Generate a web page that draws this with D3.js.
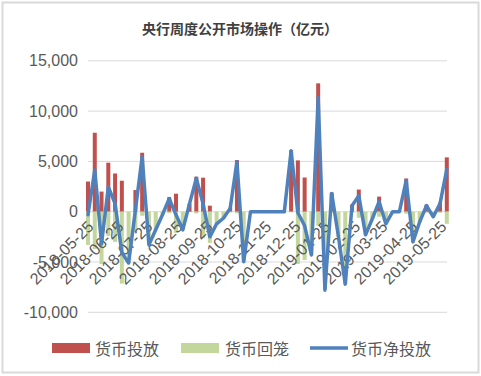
<!DOCTYPE html>
<html><head><meta charset="utf-8">
<script src="https://cdn.jsdelivr.net/npm/d3@7/dist/d3.min.js"></script>
<style>
html,body{margin:0;padding:0;background:#fff;}
svg{display:block;}
</style></head><body>
<svg id="c" width="481" height="376"></svg>
<script>
const title = "央行周度公开市场操作（亿元）";
const seriesNames = ["货币投放", "货币回笼", "货币净投放"];
const dates = [
  "2018-05-25","2018-06-01","2018-06-08","2018-06-15","2018-06-22","2018-06-29",
  "2018-07-06","2018-07-13","2018-07-20","2018-07-27",
  "2018-08-03","2018-08-10","2018-08-17","2018-08-24","2018-08-31",
  "2018-09-07","2018-09-14","2018-09-21","2018-09-28",
  "2018-10-05","2018-10-12","2018-10-19","2018-10-26",
  "2018-11-02","2018-11-09","2018-11-16","2018-11-23","2018-11-30",
  "2018-12-07","2018-12-14","2018-12-21","2018-12-28",
  "2019-01-04","2019-01-11","2019-01-18","2019-01-25",
  "2019-02-01","2019-02-08","2019-02-15","2019-02-22",
  "2019-03-01","2019-03-08","2019-03-15","2019-03-22","2019-03-29",
  "2019-04-05","2019-04-12","2019-04-19","2019-04-26",
  "2019-05-03","2019-05-10","2019-05-17","2019-05-24","2019-05-31"
];
const injection = [
  3000, 7850, 2000, 4870, 3800, 3080,
  0, 2150, 5860, 0,
  0, 0, 1450, 1790, 0,
  800, 3480, 3380, 600,
  0, 0, 400, 5130,
  0, 0, 0, 0, 0,
  0, 0, 6100, 5100,
  3400, 0, 12760, 0,
  1900, 0, 0, 700,
  2200, 0, 0, 1500, 0,
  0, 0, 3300, 0,
  0, 700, 0, 900, 5400
];
const withdrawal = [
  -3300, -3700, -5200, -2400, -3000, -7150,
  -5100, -2000, -400, -3300,
  -1800, -300, -150, -2100, -1800,
  0, -170, -2600, -3100,
  -1200, -650, -70, -160,
  -4970, 0, 0, 0, 0,
  0, 0, -50, -5200,
  -4800, -4300, -1400, -7800,
  -100, -2500, -7200, -100,
  -600, -2300, -700, -500, -1200,
  0, 0, -200, -3000,
  -1000, -100, -500, -100, -1200
];
const netInjection = [
  -300, 4150, -3200, 2470, 800, -4070,
  -5100, 150, 5460, -3300,
  -1800, -300, 1300, -310, -1800,
  800, 3310, 780, -2500,
  -1200, -650, 330, 4970,
  -4970, 0, 0, 0, 0,
  0, 0, 6050, -100,
  -1400, -4300, 11360, -7800,
  1800, -2500, -7200, 600,
  1600, -2300, -700, 1000, -1200,
  0, 0, 3100, -3000,
  -1000, 600, -500, 800, 4200
];
const yTicks = [-10000, -5000, 0, 5000, 10000, 15000];
const xTickLabels = ["2018-05-25","2018-06-25","2018-07-25","2018-08-25","2018-09-25",
  "2018-10-25","2018-11-25","2018-12-25","2019-01-25","2019-02-25","2019-03-25",
  "2019-04-25","2019-05-25"];
const colors = ["#C0504D", "#C3D69B", "#4F81BD"];

const parse = d3.timeParse("%Y-%m-%d");
const svg = d3.select("#c");
svg.append("rect").attr("x", 2.5).attr("y", 2.5).attr("width", 476).attr("height", 370)
  .attr("fill", "#fff").attr("stroke", "#d9d9d9").attr("stroke-width", 2);

const x = d3.scaleTime().domain([parse(dates[0]), parse(dates[dates.length - 1])]).range([88, 446.8]);
const y = d3.scaleLinear().domain([-10000, 15000]).range([312.3, 60.8]);

// title
svg.append("text").attr("x", 240).attr("y", 28).attr("text-anchor", "middle")
  .attr("dominant-baseline", "central")
  .style("font-family", "'Noto Sans CJK SC'").style("font-size", "14px").style("font-weight", "bold")
  .style("fill", "#404040").text(title);

// gridlines
svg.append("g").selectAll("line").data(yTicks.filter(d => d !== 0)).join("line")
  .attr("x1", 88).attr("x2", 447).attr("y1", d => y(d)).attr("y2", d => y(d))
  .attr("stroke", "#d9d9d9").attr("stroke-width", 1);

// y axis
const yAxis = svg.append("g").attr("transform", "translate(88,0)")
  .call(d3.axisLeft(y).tickValues(yTicks).tickSize(0).tickPadding(10)
    .tickFormat(d => d3.format(",")(d).replace("−", "-")));
yAxis.select(".domain").remove();
yAxis.selectAll("text").style("font-family", "Arial, 'Liberation Sans'").style("font-size", "16px").style("fill", "#595959");

// zero line
svg.append("line").attr("x1", 88).attr("x2", 447).attr("y1", y(0)).attr("y2", y(0))
  .attr("stroke", "#d9d9d9").attr("stroke-width", 1);

// bars
const bw = 4;
svg.append("g").selectAll("rect").data(dates).join("rect")
  .attr("x", (d) => x(parse(d)) - bw / 2).attr("width", bw)
  .attr("y", (d, i) => y(injection[i])).attr("height", (d, i) => y(0) - y(injection[i]))
  .attr("fill", colors[0]);
svg.append("g").selectAll("rect").data(dates).join("rect")
  .attr("x", (d) => x(parse(d)) - bw / 2).attr("width", bw)
  .attr("y", y(0)).attr("height", (d, i) => y(withdrawal[i]) - y(0))
  .attr("fill", colors[1]);

// x axis
const xAxis = svg.append("g").attr("transform", `translate(0,${y(0)})`)
  .call(d3.axisBottom(x).tickValues(xTickLabels.map(parse)).tickSize(0)
    .tickFormat(d3.timeFormat("%Y-%m-%d")));
xAxis.select(".domain").remove();
xAxis.selectAll("text")
  .attr("x", 0).attr("y", 0).attr("dy", "0.35em")
  .attr("text-anchor", "end")
  .attr("transform", "translate(2,12) rotate(-45)")
  .style("font-family", "Arial, 'Liberation Sans'").style("font-size", "16px").style("fill", "#595959");

// net line
const line = d3.line().x((d) => x(parse(d))).y((d, i) => y(netInjection[i]));
svg.append("path").datum(dates).attr("d", line)
  .attr("fill", "none").attr("stroke", colors[2]).attr("stroke-width", 3.5)
  .attr("stroke-linejoin", "round").attr("stroke-linecap", "round");

// legend
const lg = svg.append("g").style("font-family", "'Noto Sans CJK SC'").style("font-size", "16px");
const legendItems = [
  {x: 52, tx: 95, type: "rect"},
  {x: 181, tx: 225, type: "rect"},
  {x: 310, tx: 351, type: "line"}
];
legendItems.forEach((it, i) => {
  if (it.type === "rect") {
    lg.append("rect").attr("x", it.x).attr("y", 343).attr("width", 38).attr("height", 10).attr("fill", colors[i]);
  } else {
    lg.append("line").attr("x1", it.x).attr("x2", it.x + 38).attr("y1", 348).attr("y2", 348)
      .attr("stroke", colors[i]).attr("stroke-width", 3.5);
  }
  lg.append("text").attr("x", it.tx).attr("y", 348).attr("dominant-baseline", "central")
    .style("fill", "#595959").text(seriesNames[i]);
});
</script>
</body></html>
